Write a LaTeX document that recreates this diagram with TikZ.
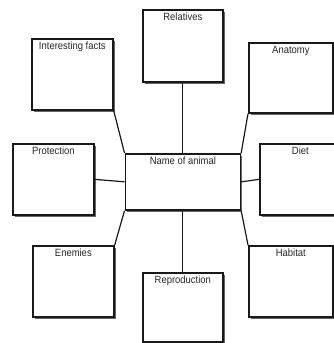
\documentclass[tikz,border=0pt]{standalone}
\usepackage{fontspec}
\setmainfont[FakeStretch=0.9]{Liberation Sans}
\usepackage{tikz}
\usetikzlibrary{
	shadows,
	positioning,
}
\tikzset{topic/.style={
		% The shape:
		rectangle,
		anchor=north west,
		% The size:
		minimum width=81pt,
		minimum height=71pt,
		% The border:
		line width=1.7pt,
		draw=black!90,
		fill=white,
		drop shadow={shadow xshift=1.8pt,shadow yshift=-1.8pt,fill=black!60,opacity=1},
}}
\tikzset{caption/.style={
		below=2.5pt,
		font=\fontsize{10.5}{12}\selectfont,
		text=black!85,
		inner sep=1pt,
}}

\begin{document}
\begin{tikzpicture}[
	x=1pt,y=-1pt,
	line width=1.2pt,black!90,
	every label/.style={caption}
	]
	\useasboundingbox (0,0) rectangle (333,343);
	
	%% the middle
	\node (animal)[topic,minimum width=115pt,minimum height=56pt,label={north:Name of animal}] at (124.5,153) {};
	
	%% top row
	\node (facts)[topic,label={north:Interesting facts}] at (31,38) {};
	\node (relatives)[topic,minimum width=80pt,minimum height=72pt,label={north:Relatives}] at (142,9) {};
	\node (anatomy)[topic,minimum width=84pt,minimum height=70pt,label={north:Anatomy}] at (248,42) {};
	
	%% middle row
	\node (protection)[topic,label={north:Protection}] at (12,143) {};
	\node (diet)[topic,label={north:Diet}] at (259,143) {};
	
	%% bottom row
	\node (enemies)[topic,label={north:Enemies}] at (32,245) {};
	\node (reproduction)[topic,minimum width=80pt,minimum height=69pt,label={north:Reproduction}] at (142,272) {};
	\node (habitat)[topic,minimum width=84pt,label={north:Habitat}] at (248,245) {};
	
	%% spokes
	\draw (facts.south east) to (animal.north west);
	\draw (relatives.south) to (animal.north);
	\draw (anatomy.south west) to (animal.north east);
	\draw (protection.east) to (animal.west);
	\draw (diet.west) to (animal.east);
	\draw (enemies.north east) to (animal.south west);
	\draw (reproduction.north) to (animal.south);
	\draw (habitat.north west) to (animal.south east);
	
\end{tikzpicture}
\end{document}
